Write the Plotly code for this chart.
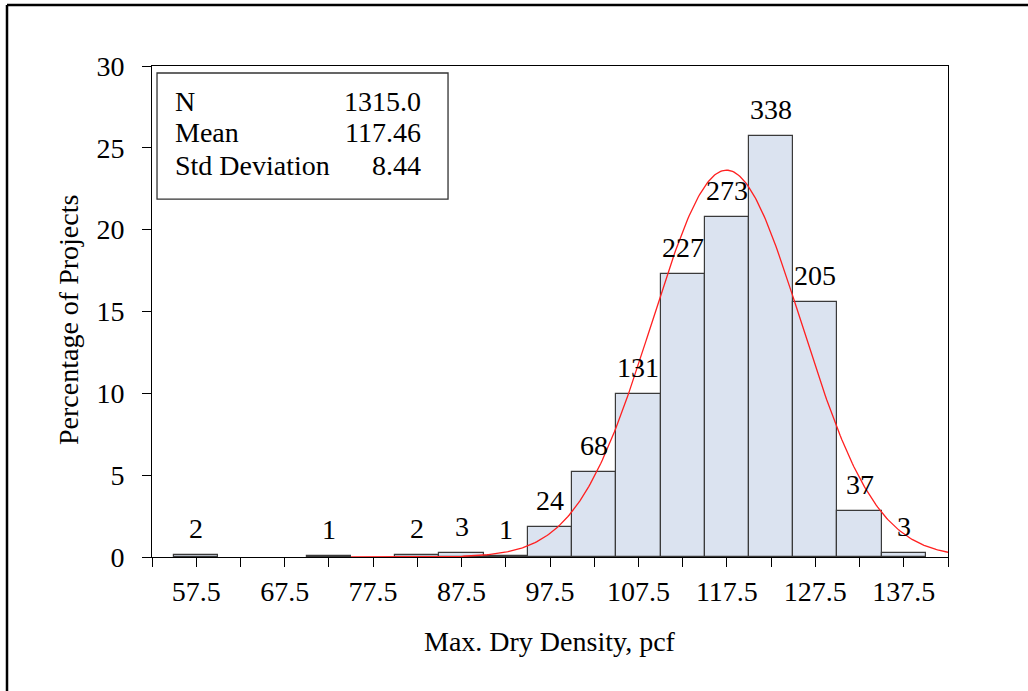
import numpy as np
import plotly.graph_objects as go

# Histogram of maximum dry density (bin centres, pcf) and project counts per bin
bin_centers = [57.5, 72.5, 82.5, 87.5, 92.5, 97.5, 102.5, 107.5, 112.5, 117.5, 122.5, 127.5, 132.5, 137.5]
counts = [2, 1, 2, 3, 1, 24, 68, 131, 227, 273, 338, 205, 37, 3]
bin_width = 5.0

# Summary statistics shown in the inset box
stat_names = ["N", "Mean", "Std Deviation"]
stat_values = ["1315.0", "117.46", "8.44"]
n_total = 1315
mean_val = 117.46
std_val = 8.44

# Axis ticks
x_tick_vals = [52.5 + 5 * i for i in range(19)]
x_tick_text = [("%.1f" % v) if (v - 57.5) % 10 == 0 else "" for v in x_tick_vals]
y_tick_vals = [0, 5, 10, 15, 20, 25, 30]

percent = [c / n_total * 100 for c in counts]

# Fitted normal curve, scaled to percent per bin
curve_x = np.linspace(75, 142.5, 400)
curve_y = (bin_width * 100 / (std_val * np.sqrt(2 * np.pi))
           * np.exp(-0.5 * ((curve_x - mean_val) / std_val) ** 2))

FONT = "Liberation Serif, Times New Roman, serif"
FS = 28

fig = go.Figure()
fig.add_trace(go.Bar(
    x=bin_centers, y=percent, width=bin_width,
    marker=dict(color="#dbe3f0", line=dict(color="#3a3a3a", width=1.2)),
    hoverinfo="skip",
))
fig.add_trace(go.Scatter(
    x=curve_x, y=curve_y, mode="lines",
    line=dict(color="#ff2020", width=1.3), hoverinfo="skip",
))

# Count labels above each bar
for xc, p, c in zip(bin_centers, percent, counts):
    fig.add_annotation(x=xc, y=p, text=str(c), showarrow=False,
                       yanchor="bottom", yshift=9,
                       font=dict(family=FONT, size=FS, color="black"))

# Statistics box
fig.add_shape(type="rect", xref="paper", yref="paper",
              x0=0.0063, x1=0.3719, y0=0.729, y1=0.9857,
              line=dict(color="#333333", width=1.3), fillcolor="white", layer="above")
row_y = [101, 133, 165]
for name, val, py in zip(stat_names, stat_values, row_y):
    yp = (557 - py) / 491
    fig.add_annotation(xref="paper", yref="paper", x=(173 - 152) / 796, y=yp,
                       text=name, showarrow=False, xanchor="left", yanchor="middle",
                       font=dict(family=FONT, size=FS, color="black"))
    fig.add_annotation(xref="paper", yref="paper", x=(423 - 152) / 796, y=yp,
                       text=val, showarrow=False, xanchor="right", yanchor="middle",
                       font=dict(family=FONT, size=FS, color="black"))

# Axis titles
fig.add_annotation(xref="paper", yref="paper", x=0.5, y=(557 - 641) / 491,
                   text="Max. Dry Density, pcf", showarrow=False,
                   xanchor="center", yanchor="middle",
                   font=dict(family=FONT, size=FS, color="black"))
fig.add_annotation(xref="paper", yref="paper", x=(68 - 152) / 796, y=(557 - 320) / 491,
                   text="Percentage of Projects", showarrow=False, textangle=-90,
                   xanchor="center", yanchor="middle",
                   font=dict(family=FONT, size=FS, color="black"))

# Outer frame (left and top edges)
x_left = (7 - 152) / 796
y_top = (557 - 5) / 491
fig.add_shape(type="line", xref="paper", yref="paper",
              x0=x_left, x1=x_left, y0=-0.35, y1=y_top,
              line=dict(color="black", width=2.5))
fig.add_shape(type="line", xref="paper", yref="paper",
              x0=x_left, x1=1.2, y0=y_top, y1=y_top,
              line=dict(color="black", width=2.5))

fig.update_layout(
    width=1028, height=691,
    margin=dict(l=152, r=80, t=66, b=134),
    paper_bgcolor="white", plot_bgcolor="white",
    showlegend=False, bargap=0,
    font=dict(family=FONT, size=FS, color="black"),
)
fig.update_xaxes(
    range=[52.5, 142.5], tickmode="array", tickvals=x_tick_vals, ticktext=x_tick_text,
    ticks="outside", ticklen=9, tickwidth=1, tickcolor="black",
    showline=True, linecolor="black", linewidth=1, mirror=True,
    showgrid=False, zeroline=False, layer="below traces",
    ticklabelstandoff=0, tickfont=dict(family=FONT, size=FS),
)
fig.update_yaxes(
    range=[0, 30], tickmode="array", tickvals=y_tick_vals,
    ticks="outside", ticklen=9, tickwidth=1, tickcolor="black",
    showline=True, linecolor="black", linewidth=1, mirror=True,
    showgrid=False, zeroline=False,
    ticklabelstandoff=12, tickfont=dict(family=FONT, size=FS),
)

fig.write_html("out.html")
